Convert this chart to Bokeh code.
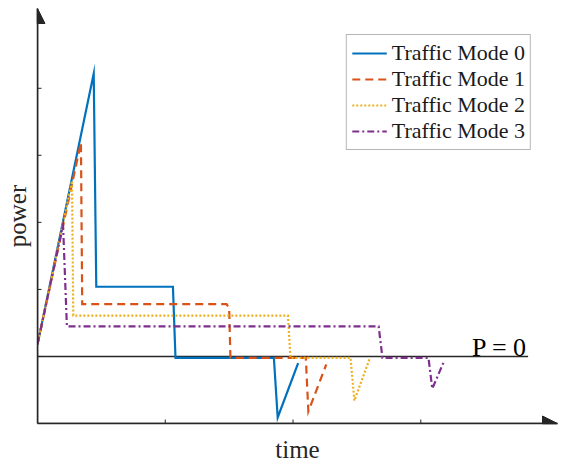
from bokeh.plotting import figure
from bokeh.models import (FixedTicker, Arrow, NormalHead, Label, Legend, LegendItem)
from bokeh.embed import file_html
from bokeh.resources import INLINE

# ---- data ----
t0 = [0, 0.44, 0.46, 1.06, 1.08, 1.85, 1.88, 2.04]
p0 = [0.18, 4.22, 1.04, 1.04, -0.02, -0.02, -0.91, -0.10]

t1 = [0, 0.34, 0.35, 1.48, 1.50, 1.51, 2.10, 2.12, 2.26]
p1 = [0.18, 3.19, 0.78, 0.78, 0.72, -0.02, -0.02, -0.82, -0.12]

t2 = [0, 0.27, 0.28, 1.96, 1.98, 2.45, 2.48, 2.60]
p2 = [0.18, 2.62, 0.61, 0.61, -0.02, -0.02, -0.66, -0.03]

t3 = [0, 0.20, 0.23, 2.67, 2.70, 3.06, 3.09, 3.18]
p3 = [0.18, 1.96, 0.45, 0.45, -0.02, -0.02, -0.48, -0.08]

zero_x = [0, 3.84]
zero_y = [0, 0]

labels = ["Traffic Mode 0", "Traffic Mode 1", "Traffic Mode 2", "Traffic Mode 3"]
colors = ["#0072BD", "#D95319", "#EDB120", "#7E2F8E"]
dashes = ["solid", "8 5", "2 2", "7 3 2 3"]

x_ticks = [1, 2, 3]
y_ticks = [0, 1, 2, 3, 4]
x_lim = (0, 4.07)
y_lim = (-1, 5.19)

FONT = "Liberation Serif"
AX = "#262626"

p = figure(width=561, height=466, x_range=x_lim, y_range=y_lim,
           output_backend="svg", toolbar_location=None,
           min_border_left=37, min_border_right=4, min_border_top=8,
           min_border_bottom=43)
p.outline_line_color = None
p.grid.visible = False
p.background_fill_color = "white"

for ax in (p.xaxis[0], p.yaxis[0]):
    ax.ticker = FixedTicker(ticks=[])
    ax.axis_line_color = AX
    ax.axis_line_width = 1.5
    ax.major_tick_line_color = None
    ax.minor_tick_line_color = None
    ax.axis_label_text_font = FONT
    ax.axis_label_text_font_size = "25px"
    ax.axis_label_text_font_style = "normal"
    ax.axis_label_text_color = AX

p.xaxis[0].axis_label = "time"
p.yaxis[0].axis_label = "power"
p.xaxis[0].axis_label_standoff = 12
p.yaxis[0].axis_label_standoff = 7

# inward tick marks
p.ray(x=x_ticks, y=[y_lim[0]] * len(x_ticks), length=4, length_units="screen",
      angle=90, angle_units="deg", line_color=AX, line_width=1)
p.ray(x=[x_lim[0]] * len(y_ticks), y=y_ticks, length=4, length_units="screen",
      angle=0, angle_units="deg", line_color=AX, line_width=1)

# arrow heads on the axes
p.add_layout(Arrow(end=NormalHead(size=15, fill_color=AX, line_color=AX),
                   x_start=x_lim[0], y_start=y_lim[0], x_end=x_lim[0], y_end=y_lim[1],
                   line_color=AX, line_width=1.5))
p.add_layout(Arrow(end=NormalHead(size=15, fill_color=AX, line_color=AX),
                   x_start=x_lim[0], y_start=y_lim[0], x_end=x_lim[1], y_end=y_lim[0],
                   line_color=AX, line_width=1.5))

# P = 0 reference line
p.line(zero_x, zero_y, line_color=AX, line_width=1.5)
p.add_layout(Label(x=3.40, y=0.13, text="P = 0", text_font=FONT,
                   text_font_size="26px", text_color="black",
                   text_baseline="alphabetic"))

items = []
for t, pw, c, d, lab in zip([t0, t1, t2, t3], [p0, p1, p2, p3], colors, dashes, labels):
    r = p.line(t, pw, line_color=c, line_width=2.2, line_dash=d, line_join="miter")
    items.append(LegendItem(label=lab, renderers=[r]))

legend = Legend(items=items, location="top_right", margin=26,
                label_text_font=FONT, label_text_font_size="22px",
                label_text_color="#1a1a1a",
                glyph_width=35, glyph_height=20, label_height=26,
                label_standoff=5, spacing=0, padding=5,
                border_line_color="#6e6e6e", border_line_width=1,
                background_fill_color="white", background_fill_alpha=1)
p.add_layout(legend)

open("out.html", "w").write(file_html(p, INLINE))
